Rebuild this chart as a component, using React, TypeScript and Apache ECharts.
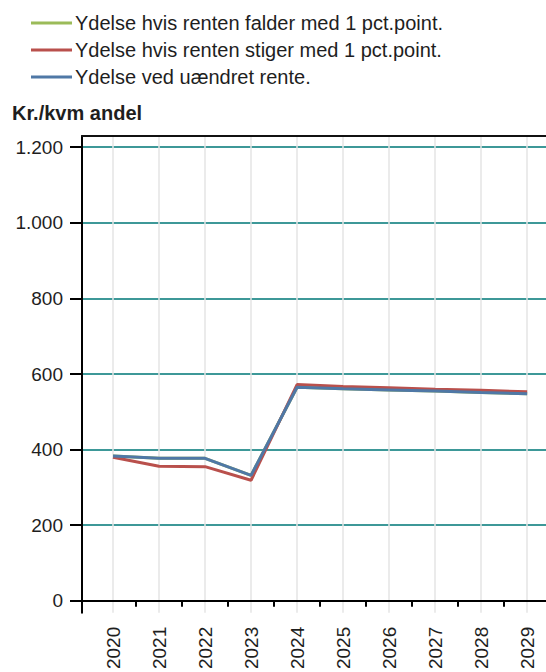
import React, { useEffect, useRef } from "react";
import * as echarts from "echarts";

const years = [2020, 2021, 2022, 2023, 2024, 2025, 2026, 2027, 2028, 2029];
const faldNames = "Ydelse hvis renten falder med 1 pct.point.";
const stigNames = "Ydelse hvis renten stiger med 1 pct.point.";
const uaendretName = "Ydelse ved uændret rente.";
const falder = [383, 377, 377, 332, 565, 561, 558, 555, 551, 548];
const stiger = [380, 356, 355, 319, 572, 567, 564, 560, 557, 553];
const uaendret = [383, 377, 377, 332, 565, 561, 558, 555, 551, 548];
const yTicks = [0, 200, 400, 600, 800, 1000, 1200];
const xBoundaryTicks = [2020.5, 2021.5, 2022.5, 2023.5, 2024.5, 2025.5, 2026.5, 2027.5, 2028.5];
const yAxisTitle = "Kr./kvm andel";

const FONT = "'Liberation Sans', Arial, sans-serif";
const TEXT = "#1e1e1e";

const pairs = (vals: number[]) => years.map((y, i) => [y, vals[i]]);
const fmt = (v: number) => String(Math.round(v)).replace(/\B(?=(\d{3})+(?!\d))/g, ".");

export default function App() {
  const ref = useRef<HTMLDivElement>(null);
  useEffect(() => {
    if (!ref.current) return;
    const chart = echarts.init(ref.current, undefined, { renderer: "svg" });
    const xMin = 2019.326;
    const xMax = 2029.41;
    chart.setOption({
      animation: false,
      backgroundColor: "#ffffff",
      title: {
        text: yAxisTitle,
        left: 12,
        top: 103,
        padding: 0,
        textStyle: { fontFamily: FONT, fontSize: 20, fontWeight: "bold", color: TEXT, lineHeight: 20 },
      },
      legend: {
        orient: "vertical",
        left: 31,
        top: 12,
        padding: 0,
        icon: "rect",
        itemWidth: 41,
        itemHeight: 3,
        itemGap: 5,
        textStyle: { fontFamily: FONT, fontSize: 20, color: TEXT, lineHeight: 22, padding: [0, 0, 0, -2] },
        data: [faldNames, stigNames, uaendretName],
      },
      grid: { left: 82, right: 0, top: 136, bottom: 56, containLabel: false },
      xAxis: [
        {
          type: "value",
          min: xMin,
          max: xMax,
          position: "bottom",
          axisLine: { show: true, lineStyle: { color: "#000", width: 2 } },
          axisTick: { show: true, length: 6, customValues: xBoundaryTicks, lineStyle: { color: "#000", width: 2 } },
          axisLabel: {
            customValues: years,
            rotate: 90,
            margin: 14,
            fontFamily: FONT,
            fontSize: 19,
            color: TEXT,
            formatter: (v: number) => String(Math.round(v)),
          },
          splitLine: { show: false },
        },
        {
          type: "value",
          min: xMin,
          max: xMax,
          position: "top",
          axisLine: { show: true, lineStyle: { color: "#111", width: 2 } },
          axisTick: { show: false, customValues: years },
          axisLabel: { show: false },
          splitLine: { show: true, lineStyle: { color: "#e4e4e4", width: 1.5 } },
        },
      ],
      yAxis: {
        type: "value",
        min: -31.5,
        max: 1229.7,
        axisLine: { show: true, lineStyle: { color: "#000", width: 2 } },
        axisTick: { show: true, length: 12, customValues: yTicks, lineStyle: { color: "#000", width: 2 } },
        axisLabel: {
          customValues: yTicks,
          margin: 19,
          fontFamily: FONT,
          fontSize: 19,
          color: TEXT,
          formatter: (v: number) => fmt(v),
        },
        splitLine: { show: true, lineStyle: { color: "#3d9898", width: 2 } },
      },
      series: [
        {
          name: faldNames,
          type: "line",
          xAxisIndex: 0,
          data: pairs(falder),
          symbol: "none",
          color: "#9BBB59",
          lineStyle: { width: 3, color: "#9BBB59" },
        },
        {
          name: stigNames,
          type: "line",
          xAxisIndex: 0,
          data: pairs(stiger),
          symbol: "none",
          color: "#B9504C",
          lineStyle: { width: 3, color: "#B9504C" },
        },
        {
          name: uaendretName,
          type: "line",
          xAxisIndex: 0,
          data: pairs(uaendret),
          symbol: "none",
          color: "#4F78A6",
          lineStyle: { width: 3, color: "#4F78A6" },
        },
      ],
    });
    return () => chart.dispose();
  }, []);
  return (
    <div
      ref={ref}
      style={{ position: "fixed", left: 0, top: 0, width: 546, height: 672 }}
    />
  );
}
